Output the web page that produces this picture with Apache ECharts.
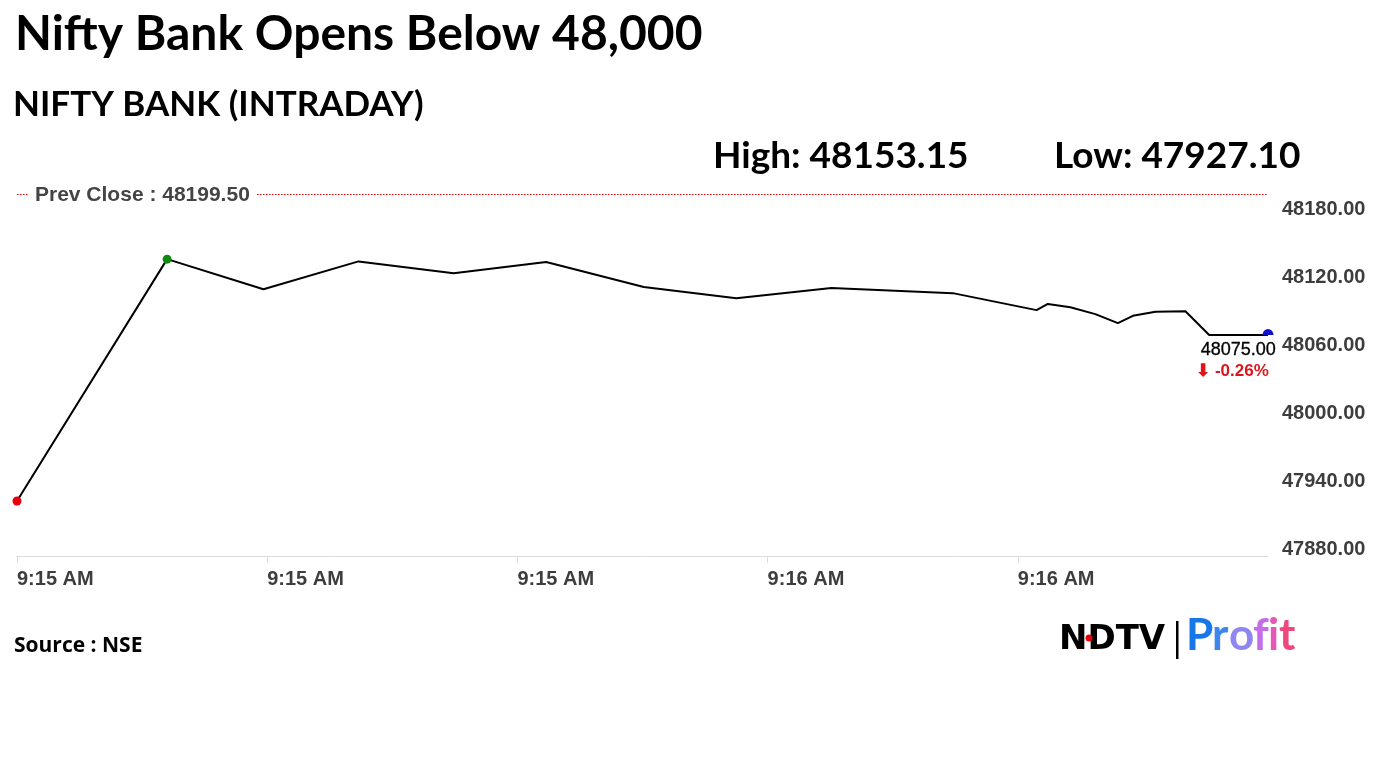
<!DOCTYPE html>
<html>
<head>
<meta charset="utf-8">
<script src="https://cdn.jsdelivr.net/npm/echarts@6/dist/echarts.min.js"></script>
<style>
  html, body { margin: 0; padding: 0; background: #fff; }
  #chart { width: 1382px; height: 777px; }
</style>
</head>
<body>
<div id="chart"></div>
<script>
// seconds after 9:15:00 and index level
const secs = [0, 12, 19.7, 27.3, 34.9, 42.3, 50.1, 57.5, 65.1, 74.8, 81.5, 82.4, 84.2, 86.2, 88, 89.2, 91, 93.4, 95.3, 100];
const prices = [47928.5, 48142, 48115.5, 48140, 48129.5, 48139.5, 48117.5, 48107.5, 48116.5, 48112,
  48097, 48102.5, 48099.5, 48093.5, 48085.5, 48092, 48095.5, 48096, 48075, 48075];
const tickLabels = ['9:15 AM', '9:15 AM', '9:15 AM', '9:16 AM', '9:16 AM', '9:16 AM'];
const prevClose = 48199.5;
const dayHigh = 48153.15;
const dayLow = 47927.10;

const last = prices[prices.length - 1];
const pct = (last - prevClose) / prevClose * 100;

const seriesData = secs.map((s, i) => {
  const item = { value: [s, prices[i]] };
  if (i === 0) {
    item.symbol = 'circle'; item.symbolSize = 9; item.itemStyle = { color: '#e8000b' };
  } else if (i === 1) {
    item.symbol = 'circle'; item.symbolSize = 9; item.itemStyle = { color: '#108a10' };
  } else if (i === secs.length - 1) {
    // half dot sitting on the line
    item.symbol = 'path://M0,10 A10,10 0 0 1 20,10 Z';
    item.symbolSize = [11, 6];
    item.symbolOffset = [0, -3];
    item.itemStyle = { color: '#1010c8' };
    item.label = {
      show: true,
      position: 'bottom',
      offset: [-32, -1],
      formatter: '{a|' + last.toFixed(2) + '}\n{b|\u2B07 ' + pct.toFixed(2) + '%}',
      rich: {
        a: { fontFamily: 'Liberation Sans', fontSize: 18, color: '#000', lineHeight: 22, align: 'right',
          textBorderColor: '#000', textBorderWidth: 0.3 },
        b: { fontFamily: 'Liberation Sans', fontSize: 17, fontWeight: 'bold', color: '#e0151b', lineHeight: 21,
          align: 'right', padding: [0, 7, 0, 0] }
      }
    };
  }
  return item;
});

const chart = echarts.init(document.getElementById('chart'));
chart.setOption({
  animation: false,
  backgroundColor: '#fff',
  grid: { left: 17, right: 114, top: 194, bottom: 221, containLabel: false },
  xAxis: {
    type: 'value',
    min: 0,
    max: 100,
    interval: 20,
    axisLine: { show: true, lineStyle: { color: '#dcdcdc', width: 1 } },
    axisTick: { show: true, length: 7, lineStyle: { color: '#dcdcdc' } },
    splitLine: { show: false },
    axisLabel: {
      showMaxLabel: false,
      align: 'left',
      margin: 13,
      fontFamily: 'Liberation Sans',
      fontSize: 20,
      fontWeight: 'bold',
      color: '#3d3d3d',
      formatter: v => tickLabels[Math.round(v / 20)]
    }
  },
  yAxis: {
    type: 'value',
    position: 'right',
    min: 47880,
    max: prevClose,
    interval: 60,
    axisLine: { show: false },
    axisTick: { show: false },
    splitLine: { show: false },
    axisLabel: {
      showMaxLabel: false,
      align: 'left',
      verticalAlign: 'bottom',
      lineHeight: 14,
      margin: 14,
      fontFamily: 'Liberation Sans',
      fontSize: 20,
      fontWeight: 'bold',
      color: '#3d3d3d',
      formatter: v => v.toFixed(2)
    }
  },
  series: [{
    type: 'line',
    data: seriesData,
    symbol: 'none',
    lineStyle: { color: '#000', width: 2 },
    z: 3,
    markLine: {
      silent: true,
      symbol: 'none',
      label: { show: false },
      lineStyle: { color: '#e00000', type: [1.5, 1.5], width: 1, opacity: 1 },
      data: [{ yAxis: prevClose, lineStyle: { color: '#e00000' } }]
    }
  }],
  graphic: [
    { type: 'text', left: 15, top: 11, style: { text: 'Nifty Bank Opens Below 48,000', font: 'bold 48px Lato', fill: '#000' } },
    { type: 'text', left: 13, top: 87, style: { text: 'NIFTY BANK (INTRADAY)', font: 'bold 35px Lato', fill: '#000' } },
    { type: 'text', left: 713, top: 138, style: { text: 'High: ' + dayHigh.toFixed(2), font: 'bold 37px Lato', fill: '#000' } },
    { type: 'text', left: 1054, top: 138, style: { text: 'Low: ' + dayLow.toFixed(2), font: 'bold 37px Lato', fill: '#000' } },
    { type: 'text', left: 29, top: 185, z: 100, style: {
        text: 'Prev Close : ' + prevClose.toFixed(2), font: 'bold 21px "Liberation Sans"', fill: '#444',
        backgroundColor: '#fff', padding: [0, 6] } },
    { type: 'text', left: 14, top: 636, style: { text: 'Source : NSE', font: 'bold 21px "Open Sans"', fill: '#000' } },
    // NDTV | Profit logo
    { type: 'text', left: 1059, top: 623, style: { text: 'NDTV', font: 'bold 34px "DejaVu Sans"', fill: '#000' } },
    { type: 'circle', shape: { cx: 1089, cy: 638, r: 3.5 }, style: { fill: '#e8000b' }, z: 101 },
    { type: 'rect', shape: { x: 1176, y: 621, width: 2.5, height: 38 }, style: { fill: '#000' } },
    { type: 'text', left: 1186, top: 614, style: { text: 'P', font: 'bold 44px Lato', fill: '#1877e6' } },
    { type: 'text', left: 1212, top: 614, style: { text: 'r', font: 'bold 44px Lato', fill: '#3c86ee' } },
    { type: 'text', left: 1229, top: 614, style: { text: 'o', font: 'bold 44px Lato', fill: '#8f86f2' } },
    { type: 'text', left: 1253, top: 614, style: { text: 'f', font: 'bold 44px Lato', fill: '#c46cea' } },
    { type: 'text', left: 1268, top: 614, style: { text: 'i', font: 'bold 44px Lato', fill: '#e657b8' } },
    { type: 'text', left: 1279, top: 614, style: { text: 't', font: 'bold 44px Lato', fill: '#f0467e' } }
  ]
});
</script>
</body>
</html>
